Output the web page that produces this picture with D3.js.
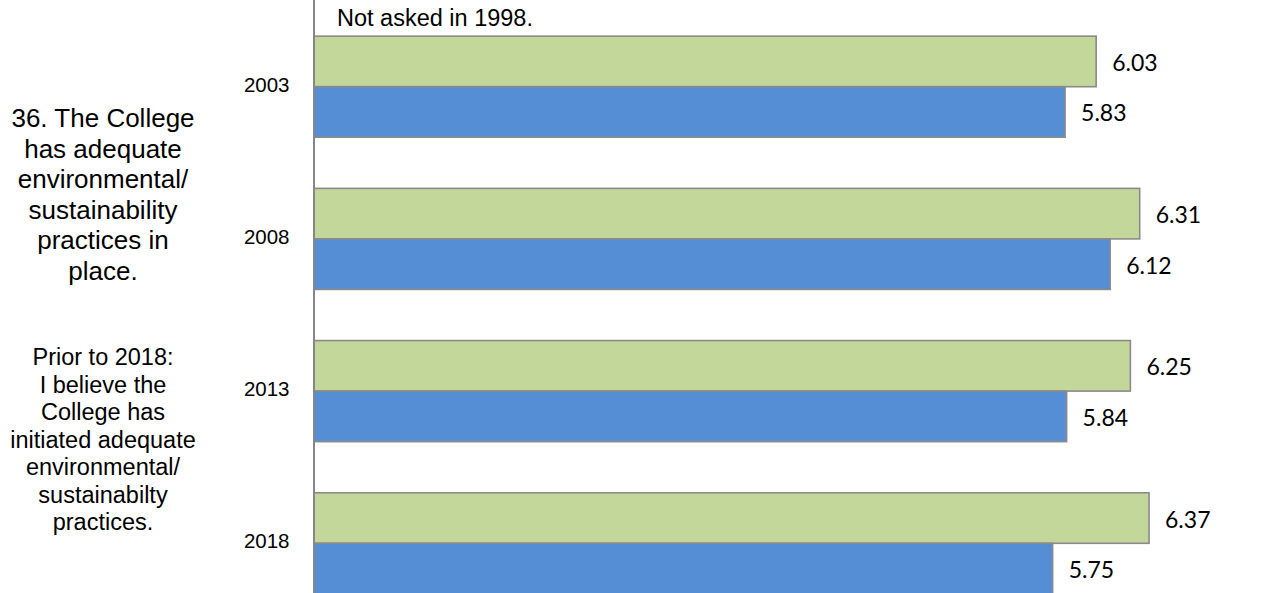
<!DOCTYPE html>
<html>
<head>
<meta charset="utf-8">
<script src="https://cdn.jsdelivr.net/npm/d3@7"></script>
<style>
  html, body { margin: 0; padding: 0; background: #fff; overflow: hidden; }
  svg { display: block; }
</style>
</head>
<body>
<svg id="chart" width="1264" height="593"></svg>
<script>
// ---- data ----
const years = ["1998", "2003", "2008", "2013", "2018"];
const series1 = [null, 6.03, 6.31, 6.25, 6.37]; // upper (green) bars
const series2 = [null, 5.83, 6.12, 5.84, 5.75]; // lower (blue) bars
const seriesNames = ["series1", "series2"];
const notAskedNote = "Not asked in 1998.";
const questionLines = ["36. The College", "has adequate", "environmental/", "sustainability", "practices in", "place."];
const priorLines = ["Prior to 2018:", "I believe the", "College has", "initiated adequate", "environmental/", "sustainabilty", "practices."];
const xDomain = [1, 7];

// ---- layout ----
const svg = d3.select("#chart");
const W = 1264, H = 593;
const axisX = 314;
const colors = { series1: "#C4D79B", series2: "#558ED5" };

const x = d3.scaleLinear().domain(xDomain).range([axisX, 1247]);
const y = d3.scaleBand().domain(years).range([-141.6, 619.4])
  .paddingInner(0.336).paddingOuter(0.168);
const ySub = d3.scaleBand().domain(seriesNames).range([0, y.bandwidth()]);

const rows = years.map((yr, i) => ({ year: yr, values: [series1[i], series2[i]] }));

const g = svg.append("g");

// bars
rows.forEach(r => {
  r.values.forEach((v, j) => {
    if (v == null) return;
    const s = seriesNames[j];
    const y0 = y(r.year) + ySub(s);
    g.append("rect")
      .attr("x", x(xDomain[0]))
      .attr("y", y0)
      .attr("width", x(v) - x(xDomain[0]))
      .attr("height", ySub.bandwidth())
      .attr("fill", colors[s])
      .attr("stroke", "#8a8a8a")
      .attr("stroke-width", 1.6);
    g.append("text")
      .attr("x", x(v) + 16)
      .attr("y", y0 + ySub.bandwidth() / 2 + 9.5)
      .attr("font-family", "Lato, 'Open Sans', sans-serif")
      .attr("font-size", 23)
      .attr("fill", "#000")
      .text(d3.format(".2f")(v));
  });
});

// vertical axis line
g.append("line")
  .attr("x1", axisX).attr("x2", axisX)
  .attr("y1", 0).attr("y2", H)
  .attr("stroke", "#878787").attr("stroke-width", 2);

// category labels
years.slice(1).forEach(yr => {
  g.append("text")
    .attr("x", 289.5)
    .attr("y", y(yr) + y.bandwidth() / 2 + 5)
    .attr("text-anchor", "end")
    .attr("font-family", "'Liberation Sans', Arial, sans-serif")
    .attr("font-size", 20.5)
    .attr("fill", "#000")
    .text(yr);
});

// note for 1998
g.append("text")
  .attr("x", axisX + 23)
  .attr("y", 26)
  .attr("font-family", "'Liberation Sans', Arial, sans-serif")
  .attr("font-size", 23.5)
  .attr("fill", "#000")
  .text(notAskedNote);

// question text blocks
const q = g.append("text")
  .attr("font-family", "'Liberation Sans', Arial, sans-serif")
  .attr("font-size", 26)
  .attr("text-anchor", "middle")
  .attr("fill", "#000");
questionLines.forEach((t, i) => {
  q.append("tspan").attr("x", 103).attr("y", 127 + i * 30.6).text(t);
});

const p = g.append("text")
  .attr("font-family", "'Liberation Sans', Arial, sans-serif")
  .attr("font-size", 23.5)
  .attr("text-anchor", "middle")
  .attr("fill", "#000");
priorLines.forEach((t, i) => {
  p.append("tspan").attr("x", 103).attr("y", 365 + i * 27.5).text(t);
});
</script>
</body>
</html>
